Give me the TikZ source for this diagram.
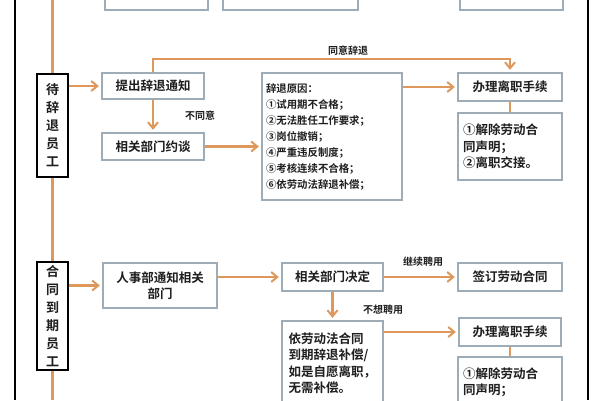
\documentclass[tikz,border=0pt]{standalone}
\usepackage{fontspec}
\setmainfont{Noto Sans CJK SC}[BoldFont={Noto Sans CJK SC Bold}]
\usetikzlibrary{arrows.meta,calc}
\definecolor{orng}{RGB}{222,152,92}
\definecolor{bgray}{RGB}{158,172,184}
\definecolor{ink}{RGB}{30,30,30}
\tikzset{
  box/.style={draw=bgray,line width=2.4pt,fill=white,inner sep=0pt,align=center,text=ink,
    font=\fontsize{12.5}{16.5}\selectfont\bfseries},
  lane/.style={draw=black,line width=2.6pt,fill=white,inner sep=0pt,align=center,text=ink,
    minimum width=31pt,font=\fontsize{13}{18}\selectfont\bfseries},
  arr/.style={draw=orng,line width=2.4pt,shorten >=2pt,-{Straight Barb[length=6pt,width=10pt,line width=2pt]}},
  link/.style={draw=orng,line width=2.4pt},
  edgelbl/.style={font=\fontsize{10}{12}\selectfont\bfseries,text=ink,inner sep=0pt},
  rulebar/.style={draw=black,line width=1.8pt},
}
\begin{document}
\begin{tikzpicture}[x=1pt,y=-1pt]
\useasboundingbox (0,0) rectangle (600,400);
\clip (0,0) rectangle (600,400);
\fill[white] (0,0) rectangle (600,400);

% outer black rules
\coordinate (lt) at (15,0);
\coordinate (lb) at (15,400);
\coordinate (rt) at (588,0);
\coordinate (rb) at (588,400);
\draw[rulebar] (lt) -- (lb);
\draw[rulebar] (rt) -- (rb);

% partially visible boxes at top
\node[box,minimum width=103pt,minimum height=30pt] (top1) at (156.5,-5) {};
\node[box,minimum width=135pt,minimum height=30pt] (top2) at (290.5,-5) {};
\node[box,minimum width=103pt,minimum height=30pt] (top3) at (511.5,-5) {};

% lane labels
\node[lane,minimum height=103pt] (lane1) at (52.5,125.5) {待\\辞\\退\\员\\工};
\node[lane,minimum height=108pt] (lane2) at (52.5,316) {合\\同\\到\\期\\员\\工};
\coordinate (vtop) at (52.5,0);
\coordinate (vbot) at (52.5,400);
\draw[link] (vtop) -- (lane1.north);
\draw[link] (lane1.south) -- (lane2.north);
\draw[link] (lane2.south) -- (vbot);

% upper section
\node[box,minimum width=102pt,minimum height=26pt] (n1) at (153,86) {提出辞退通知};
\node[box,minimum width=102pt,minimum height=27pt] (n2) at (153,146.5) {相关部门约谈};
\node[box,minimum height=127pt,text width=132pt,inner xsep=4pt,align=left,
  font=\fontsize{10.4}{16}\selectfont\bfseries] (reasons) at (332,136.5)
  {辞退原因：\\①试用期不合格；\\②无法胜任工作要求；\\③岗位撤销；\\④严重违反制度；\\⑤考核连续不合格；\\⑥依劳动法辞退补偿；};
\node[box,minimum width=104pt,minimum height=28pt] (n3) at (510,87) {办理离职手续};
\node[box,minimum height=67pt,text width=94pt,inner xsep=5pt,align=left] (n4) at (510,146.5)
  {①解除劳动合\\同声明；\\②离职交接。};

\draw[arr] (lane1.east |- n1.west) -- (n1.west);
\draw[arr] (n1.south) -- (n2.north);
\draw[arr] (n1.north) -- ++(0,-13) -| (n3.north);
\draw[arr] (n2.east) -- (n2.east -| reasons.west);
\draw[arr] (reasons.east |- n3.west) -- (n3.west);
\draw[link] (n3.south) -- (n4.north);
\node[edgelbl] (lblagree) at (348,51) {同意辞退};
\node[edgelbl] (lbldis) at (200,116) {不同意};

% lower section
\node[box,minimum width=114pt,minimum height=45pt] (m1) at (160,285.5) {人事部通知相关\\部门};
\node[box,minimum width=101pt,minimum height=28pt] (m2) at (332.5,277) {相关部门决定};
\node[box,minimum width=104pt,minimum height=28pt] (m3) at (510,277) {签订劳动合同};
\node[box,minimum height=84pt,text width=88pt,inner xsep=6.5pt,align=left] (m4) at (332.5,363)
  {依劳动法合同\\到期辞退补偿/\\如是自愿离职，\\无需补偿。};
\node[box,minimum width=102pt,minimum height=28pt] (m5) at (510,332) {办理离职手续};
\node[box,minimum height=50pt,text width=94pt,inner xsep=5pt,align=left] (m6) at (510,382)
  {①解除劳动合\\同声明；};

\draw[arr] (lane2.east |- m1.west) -- (m1.west);
\draw[arr] (m1.east |- m2.west) -- (m2.west);
\draw[arr] (m2.east) -- (m3.west);
\draw[arr] (m2.south) -- (m4.north);
\draw[arr] (m4.east |- m5.west) -- (m5.west);
\draw[link] (m5.south) -- (m6.north);
\node[edgelbl] (lblcont) at (423,262) {继续聘用};
\node[edgelbl] (lblno) at (383,310) {不想聘用};
\end{tikzpicture}
\end{document}
